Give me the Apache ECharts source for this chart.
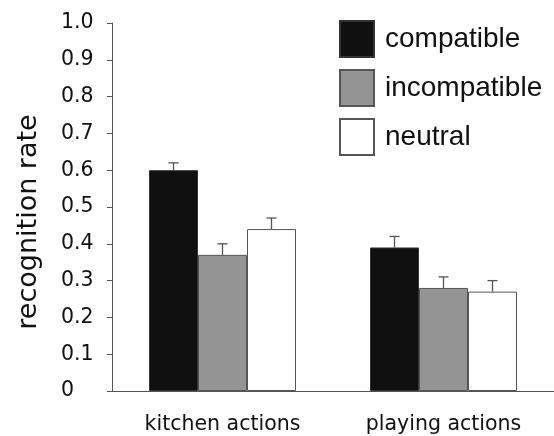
<!DOCTYPE html>
<html>
<head>
<meta charset="utf-8">
<script src="https://cdn.jsdelivr.net/npm/echarts@6/dist/echarts.min.js"></script>
<style>
  html, body { margin: 0; padding: 0; background: #fff; }
  #chart { width: 554px; height: 436px; }
</style>
</head>
<body>
<div id="chart"></div>
<script>
// Recognition rate per action type and condition, with upper error bars
const categories = ['kitchen actions', 'playing actions'];
const conditions = ['compatible', 'incompatible', 'neutral'];
const compatible = [0.60, 0.39];
const incompatible = [0.37, 0.28];
const neutral = [0.44, 0.27];
// upper end of each error bar
const compatibleErr = [0.62, 0.42];
const incompatibleErr = [0.40, 0.31];
const neutralErr = [0.47, 0.30];
const yTicks = [0, 0.1, 0.2, 0.3, 0.4, 0.5, 0.6, 0.7, 0.8, 0.9, 1.0];

const values = [compatible, incompatible, neutral];
const errors = [compatibleErr, incompatibleErr, neutralErr];
const fills = ['#101010', '#949494', '#ffffff'];
const borders = ['#333333', '#555555', '#555555'];
const BAR_W = 49;

const chart = echarts.init(document.getElementById('chart'));

const barSeries = conditions.map((name, i) => ({
  name: name,
  type: 'bar',
  data: values[i],
  barWidth: BAR_W,
  barGap: '0%',
  itemStyle: { color: fills[i], borderColor: borders[i], borderWidth: 1 },
  emphasis: { disabled: true },
  z: 2
}));

const errSeries = conditions.map((name, i) => ({
  type: 'custom',
  data: categories.map((c, k) => [k, values[i][k], errors[i][k]]),
  renderItem: function (params, api) {
    const base = api.coord([api.value(0), api.value(1)]);
    const top = api.coord([api.value(0), api.value(2)]);
    const x = base[0] + (i - 1) * BAR_W;
    const style = { stroke: '#555', lineWidth: 1.3 };
    return {
      type: 'group',
      children: [
        { type: 'line', shape: { x1: x, y1: base[1], x2: x, y2: top[1] }, style: style },
        { type: 'line', shape: { x1: x - 5, y1: top[1], x2: x + 5, y2: top[1] }, style: style }
      ]
    };
  },
  z: 1,
  silent: true
}));

chart.setOption({
  animation: false,
  backgroundColor: '#fff',
  grid: { left: 112, right: 0, top: 23, bottom: 45 },
  legend: {
    data: conditions,
    orient: 'vertical',
    left: 339,
    top: 20,
    padding: 0,
    itemWidth: 34,
    itemHeight: 36,
    itemGap: 11,
    icon: 'rect',
    textStyle: { fontFamily: 'Liberation Sans', fontSize: 28, color: '#111', padding: [0, 0, 0, 6] },
    selectedMode: false
  },
  xAxis: {
    type: 'category',
    data: categories,
    axisLine: { lineStyle: { color: '#555', width: 1 } },
    axisTick: { show: false },
    axisLabel: { fontFamily: 'DejaVu Sans', fontSize: 20.5, color: '#111', margin: 23 }
  },
  yAxis: {
    type: 'value',
    min: 0,
    max: 1,
    interval: 0.1,
    name: 'recognition rate',
    nameLocation: 'middle',
    nameGap: 70,
    nameTextStyle: { fontFamily: 'DejaVu Sans', fontSize: 27, color: '#111', padding: [0, 30, 0, 0] },
    splitLine: { show: false },
    axisLine: { show: true, lineStyle: { color: '#555', width: 1 } },
    axisTick: { show: true, length: 5, lineStyle: { color: '#555' } },
    axisLabel: {
      fontFamily: 'DejaVu Sans',
      fontSize: 20.5,
      color: '#111',
      margin: 51,
      align: 'left',
      formatter: function (v) {
        const t = yTicks.find(y => Math.abs(y - v) < 1e-9);
        return t === 0 ? '0' : t.toFixed(1);
      }
    }
  },
  series: barSeries.concat(errSeries)
});
</script>
</body>
</html>
